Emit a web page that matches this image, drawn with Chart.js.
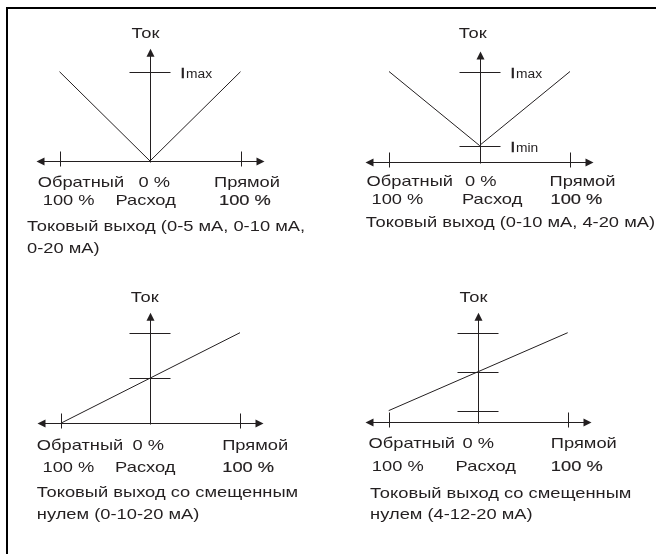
<!DOCTYPE html>
<html>
<head>
<meta charset="utf-8">
<script src="https://cdn.jsdelivr.net/npm/chart.js@4.4.1/dist/chart.umd.min.js"></script>
<style>
    body { margin: 0; background: #fff; }
    #wrap { position: relative; width: 656px; height: 554px; overflow: hidden; }
    #frame { position: absolute; left: 6px; top: 7px; width: 700px; height: 600px;
             border-left: 2px solid #000; border-top: 2px solid #000; }
    canvas { position: absolute; }
</style>
</head>
<body>
<div id="wrap">
    <div id="frame"></div>
    <canvas id="p1" width="326" height="270" style="left:0;top:0"></canvas>
    <canvas id="p2" width="330" height="270" style="left:326px;top:0"></canvas>
    <canvas id="p3" width="326" height="284" style="left:0;top:270px"></canvas>
    <canvas id="p4" width="330" height="284" style="left:326px;top:270px"></canvas>
</div>
<script>
// расход, % (обратный -100 ... прямой +100)
const flowV = [-100, 0, 100];
const flowLine = [-100, 100];

// ток, мА
const current1 = [20, 0, 20];
const current2 = [20, 4, 20];
const current3 = [0, 20];
const current4 = [4, 20];

// отметки на оси тока
const levels1 = [20];
const levels2 = [20, 4];
const levels3 = [20, 10];
const levels4 = [20, 12, 4];
const levelNames1 = ['max'];
const levelNames2 = ['max', 'min'];

const axisTitle = 'Ток';
const rowTop = ['Обратный', '0 %', 'Прямой'];
const rowBottom = ['100 %', 'Расход', '100 %'];
const caption1 = ['Токовый выход (0-5 мА, 0-10 мА,', '0-20 мА)'];
const caption2 = ['Токовый выход (0-10 мА, 4-20 мА)'];
const caption3 = ['Токовый выход со смещенным', 'нулем (0-10-20 мА)'];
const caption4 = ['Токовый выход со смещенным', 'нулем (4-12-20 мА)'];

const INK = '#231f20';
const FONT = '15px "Liberation Sans", Arial, sans-serif';
const SX = 1.22;

function txt(ctx, s, x, y, font, sx, bold) {
    ctx.save();
    ctx.font = font;
    ctx.fillStyle = INK;
    ctx.textBaseline = 'alphabetic';
    ctx.translate(x, y);
    ctx.scale(sx, 1);
    ctx.fillText(s, 0, 0);
    if (bold) {
        ctx.strokeStyle = INK;
        ctx.lineWidth = bold;
        ctx.strokeText(s, 0, 0);
    }
    ctx.restore();
}

function line(ctx, x1, y1, x2, y2) {
    ctx.beginPath();
    ctx.moveTo(x1, y1);
    ctx.lineTo(x2, y2);
    ctx.stroke();
}

const schemePlugin = {
    id: 'scheme',
    afterDatasetsDraw(chart, args, o) {
        const ctx = chart.ctx;
        const xs = chart.scales.x, ys = chart.scales.y;
        const L = Math.round(xs.getPixelForValue(-100)) + 0.5;
        const R = Math.round(xs.getPixelForValue(100)) + 0.5;
        const C = Math.round(xs.getPixelForValue(0)) + 0.5;
        const B = Math.round(ys.getPixelForValue(ys.min)) + 0.5;
        const T = ys.getPixelForValue(o.levels[0]);
        ctx.save();
        ctx.strokeStyle = INK;
        ctx.fillStyle = INK;
        ctx.lineWidth = 1;

        // horizontal axis with arrows
        const xl = L - 24, xr = R + 23;
        line(ctx, xl + 6, B, xr - 6, B);
        ctx.beginPath();
        ctx.moveTo(xl, B); ctx.lineTo(xl + 8, B - 4); ctx.lineTo(xl + 8, B + 4); ctx.closePath(); ctx.fill();
        ctx.beginPath();
        ctx.moveTo(xr, B); ctx.lineTo(xr - 8, B - 4); ctx.lineTo(xr - 8, B + 4); ctx.closePath(); ctx.fill();
        line(ctx, L, B - 10, L, B + 5);
        line(ctx, R, B - 10, R, B + 5);

        // vertical axis with arrow
        const yt = T - o.arrowUp;
        line(ctx, C, yt + 6, C, B + 1);
        ctx.beginPath();
        ctx.moveTo(C, yt); ctx.lineTo(C - 4, yt + 8); ctx.lineTo(C + 4, yt + 8); ctx.closePath(); ctx.fill();

        // level marks
        o.levels.forEach((v, i) => {
            const py = Math.round(ys.getPixelForValue(v)) + 0.5;
            line(ctx, C - 21, py, C + 20, py);
            if (o.names && o.names[i]) {
                txt(ctx, 'I', C + 30, py + 5.5, '15px "Liberation Sans", Arial, sans-serif', 1.1, 0.6);
                txt(ctx, o.names[i], C + 35.5, py + 5.5, '12px "Liberation Sans", Arial, sans-serif', 1.15);
            }
        });
        ctx.restore();

        // texts
        const t = o.text;
        txt(ctx, axisTitle, C + t.tok[0], t.tok[1], FONT, SX);
        txt(ctx, rowTop[0], L + t.obr, B + t.row1, FONT, SX);
        txt(ctx, rowTop[1], C + t.zero, B + t.row1, FONT, SX);
        txt(ctx, rowTop[2], R + t.pr, B + t.row1, FONT, SX);
        txt(ctx, rowBottom[0], L + t.h1, B + t.row2, FONT, SX);
        txt(ctx, rowBottom[1], C + t.ras, B + t.row2, FONT, SX);
        txt(ctx, rowBottom[2], R + t.h2, B + t.row2, FONT, SX, 0.2);
        o.caption.forEach((s, i) => txt(ctx, s, L + t.cap, B + t.capY[i], FONT, SX));
    }
};

function makePanel(id, xs, ys, yRange, levels, names, caption, pad, arrowUp, text) {
    return new Chart(document.getElementById(id), {
        type: 'line',
        plugins: [schemePlugin],
        data: {
            datasets: [{
                data: xs.map((v, i) => ({ x: v, y: ys[i] })),
                borderColor: INK,
                borderWidth: 1,
                pointRadius: 0,
                tension: 0,
                clip: false
            }]
        },
        options: {
            responsive: false,
            animation: false,
            events: [],
            layout: { padding: pad },
            scales: {
                x: { type: 'linear', min: -100, max: 100, display: false },
                y: { type: 'linear', min: yRange[0], max: yRange[1], display: false }
            },
            plugins: {
                legend: { display: false },
                tooltip: { enabled: false },
                scheme: { levels: levels, names: names, caption: caption, arrowUp: arrowUp, text: text }
            }
        }
    });
}

makePanel('p1', flowV, current1, [0, 20], levels1, levelNames1, caption1,
    { left: 59.5, right: 85.5, top: 71.7, bottom: 109 }, 23,
    { tok: [-19, 38], obr: -22.8, zero: -12, pr: -27.5, h1: -17.8, ras: -35, h2: -22.5,
      row1: 25, row2: 43, cap: -33.5, capY: [69.7, 91] });

makePanel('p2', flowV, current2, [0.5, 20], levels2, levelNames2, caption2,
    { left: 63, right: 86, top: 71.5, bottom: 108.3 }, 20,
    { tok: [-21.8, 38], obr: -23, zero: -15.5, pr: -21, h1: -18, ras: -18.5, h2: -20,
      row1: 23.3, row2: 41.3, cap: -23.7, capY: [64.3] });

makePanel('p3', flowLine, current3, [0, 20], levels3, [], caption3,
    { left: 60.7, right: 86, top: 62.7, bottom: 130.7 }, 20,
    { tok: [-19.7, 32], obr: -24.7, zero: -18, pr: -18.3, h1: -19, ras: -35.4, h2: -18.3,
      row1: 26.7, row2: 48.4, cap: -24.7, capY: [73.7, 95.2] });

makePanel('p4', flowLine, current4, [1.6, 20], levels4, [], caption4,
    { left: 62.7, right: 88.3, top: 62.7, bottom: 131.7 }, 20,
    { tok: [-18.9, 32], obr: -21, zero: -16, pr: -17.7, h1: -17.7, ras: -22.9, h2: -17.7,
      row1: 25.7, row2: 48.7, cap: -19.4, capY: [75.7, 96.7] });
</script>
</body>
</html>
